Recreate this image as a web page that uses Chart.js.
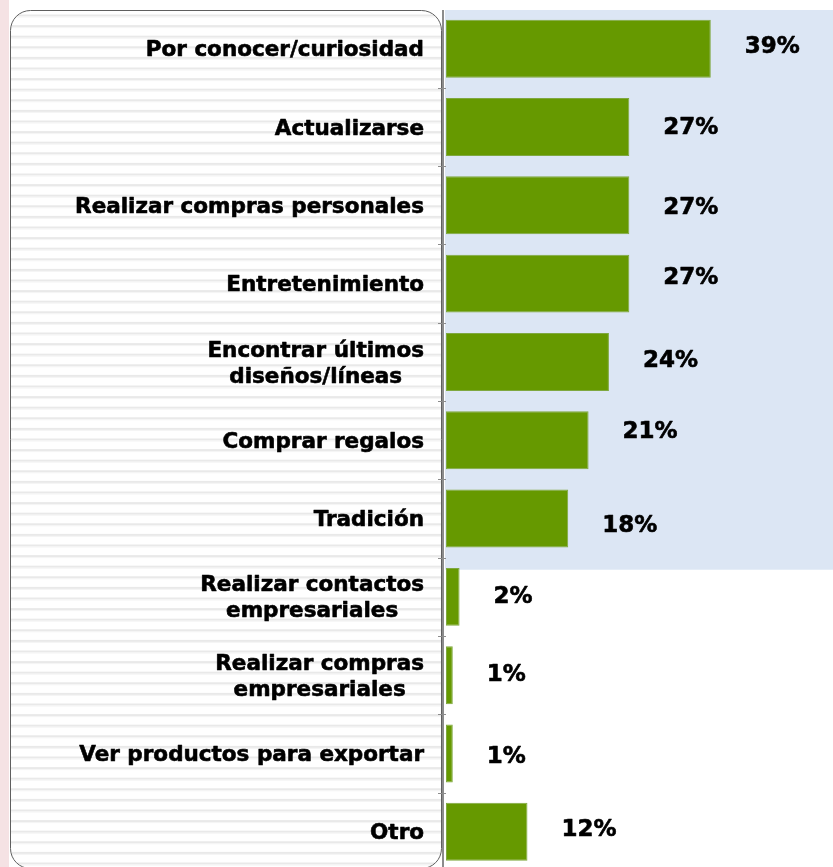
<!DOCTYPE html>
<html>
<head>
<meta charset="utf-8">
<script src="https://cdn.jsdelivr.net/npm/chart.js@4.4.0/dist/chart.umd.min.js"></script>
<style>
    html, body { margin: 0; padding: 0; background: #fff; overflow: hidden; }
    #wrap { width: 833px; height: 872px; }
</style>
</head>
<body>
<div id="wrap"><canvas id="motivosChart" width="833" height="872"></canvas></div>
<script>
// Categories (multi-line labels as arrays)
const categories = [
    'Por conocer/curiosidad',
    'Actualizarse',
    'Realizar compras personales',
    'Entretenimiento',
    ['Encontrar últimos', 'diseños/líneas'],
    'Comprar regalos',
    'Tradición',
    ['Realizar contactos', 'empresariales'],
    ['Realizar compras', 'empresariales'],
    'Ver productos para exportar',
    'Otro'
];
const percentages = [39, 27, 27, 27, 24, 21, 18, 2, 1, 1, 12];
// small vertical nudges of the value labels, as in the original slide
const labelNudgeY = [-2, 1, 3, -6, -1, -8, 7, 0, 0, 4, -2];

const FONT = '"DejaVu Sans", Verdana, sans-serif';

// bold text with a hairline stroke so it reads as heavy as the slide font
function heavyText(ctx, text, x, y) {
    ctx.strokeText(text, x, y);
    ctx.fillText(text, x, y);
}

const backgroundPlugin = {
    id: 'slideBackground',
    beforeDatasetsDraw(chart) {
        const ctx = chart.ctx;
        const area = chart.chartArea;
        const yScale = chart.scales.y;
        const pitch = yScale.getPixelForValue(1) - yScale.getPixelForValue(0);

        ctx.save();
        // pink strip on the left edge
        ctx.fillStyle = '#f5e2e4';
        ctx.fillRect(0, 0, 9, chart.height);

        // rounded label panel with horizontal stripes
        const px = 10.5, py = 10.5, pw = 431, ph = 858, r = 20;
        ctx.beginPath();
        ctx.roundRect(px, py, pw, ph, r);
        ctx.fillStyle = '#ffffff';
        ctx.fill();
        ctx.save();
        ctx.clip();
        for (let y = py + 4; y < py + ph; y += 10.6) {
            ctx.fillStyle = '#e9e9e9';
            ctx.fillRect(px, y, pw, 2);
            ctx.fillStyle = '#f4f4f4';
            ctx.fillRect(px, y + 2, pw, 1);
        }
        ctx.restore();
        ctx.strokeStyle = '#5f5f5f';
        ctx.lineWidth = 1;
        ctx.stroke();

        // light blue block behind the first seven bars
        const blueBottom = yScale.getPixelForValue(6) + pitch / 2 + 12;
        ctx.fillStyle = '#dce6f4';
        ctx.fillRect(area.left - 1, 10, chart.width - area.left + 1, blueBottom - 10);

        // vertical axis with tick marks between categories
        ctx.strokeStyle = '#8c8c8c';
        ctx.lineWidth = 2;
        ctx.beginPath();
        ctx.moveTo(area.left - 3, 10);
        ctx.lineTo(area.left - 3, chart.height);
        ctx.stroke();
        ctx.lineWidth = 1;
        for (let i = 0; i < categories.length; i++) {
            const ty = Math.round(yScale.getPixelForValue(i) + pitch / 2) + 0.5;
            ctx.beginPath();
            ctx.moveTo(area.left - 8, ty);
            ctx.lineTo(area.left, ty);
            ctx.stroke();
        }
        ctx.restore();
    },
    afterDatasetsDraw(chart) {
        const ctx = chart.ctx;
        const yScale = chart.scales.y;
        const meta = chart.getDatasetMeta(0);
        ctx.save();
        ctx.fillStyle = '#000';
        ctx.strokeStyle = '#000';
        ctx.lineWidth = 0.6;
        ctx.lineJoin = 'round';
        ctx.font = 'bold 23px ' + FONT;

        // value labels
        ctx.textAlign = 'left';
        ctx.textBaseline = 'middle';
        meta.data.forEach((bar, i) => {
            heavyText(ctx, percentages[i] + '%', bar.x + 34, bar.y + labelNudgeY[i]);
        });

        // category labels: right aligned block, lines centred inside it
        ctx.font = 'bold 21.5px ' + FONT;
        ctx.textAlign = 'center';
        const rightEdge = 424;
        const lineH = 26;
        categories.forEach((cat, i) => {
            const lines = Array.isArray(cat) ? cat : [cat];
            const w = Math.max(...lines.map(l => ctx.measureText(l).width));
            const cx = rightEdge - w / 2;
            const cy = yScale.getPixelForValue(i) + 2;
            lines.forEach((l, k) => {
                heavyText(ctx, l, cx, cy + (k - (lines.length - 1) / 2) * lineH);
            });
        });
        ctx.restore();
    }
};

const ctx = document.getElementById('motivosChart').getContext('2d');
const motivosChart = new Chart(ctx, {
    type: 'bar',
    data: {
        labels: categories,
        datasets: [{
            data: percentages,
            backgroundColor: '#669900',
            borderColor: '#7fa83f',
            borderWidth: 1,
            borderSkipped: false,
            barPercentage: 0.74,
            categoryPercentage: 1
        }]
    },
    options: {
        indexAxis: 'y',
        responsive: false,
        animation: false,
        layout: { padding: { top: 9.5, bottom: 1, left: 0, right: 0 } },
        plugins: {
            legend: { display: false },
            tooltip: { enabled: false }
        },
        scales: {
            x: {
                display: false,
                min: 0,
                max: 57
            },
            y: {
                grid: { display: false },
                border: { display: false },
                ticks: { display: false },
                afterFit: function(scale) {
                    scale.width = 446;
                }
            }
        }
    },
    plugins: [backgroundPlugin]
});
</script>
</body>
</html>
